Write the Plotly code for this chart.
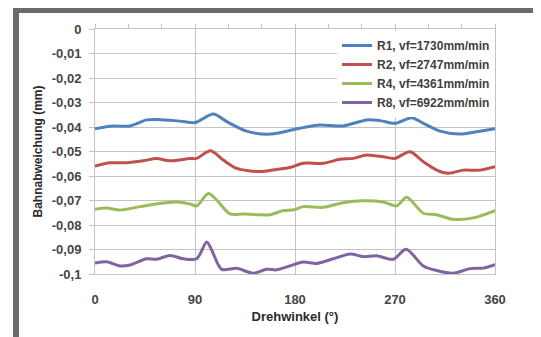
import plotly.graph_objects as go

# ---- data ----
r1_angle = [0, 16, 31.5, 46.5, 55.5, 76.5, 90, 106.5, 118.5, 136.5, 157.5, 172.5, 184.5,
            202.5, 223, 244.5, 256.5, 270, 285, 295.5, 310.5, 328.5, 343.5, 360]
r1_dev = [-0.0407, -0.0396, -0.0396, -0.0371, -0.0369, -0.0376, -0.0382, -0.0347, -0.0378,
          -0.0417, -0.0429, -0.0417, -0.0405, -0.0392, -0.0396, -0.0371, -0.0374, -0.0385,
          -0.0362, -0.0385, -0.0417, -0.0429, -0.0419, -0.0407]

r2_angle = [0, 13.5, 28.5, 43.5, 55.5, 67.5, 85.5, 91.5, 104, 115.5, 127.5, 148.5, 163.5,
            175.5, 187.5, 205.5, 220.5, 232.5, 244.5, 262.5, 270, 283.5, 295.5, 307.5,
            318, 331.5, 346.5, 360]
r2_dev = [-0.0559, -0.0546, -0.0546, -0.0538, -0.0529, -0.0538, -0.0529, -0.0528, -0.0497,
          -0.0535, -0.0569, -0.0582, -0.0573, -0.0565, -0.0548, -0.0548, -0.0532, -0.0528,
          -0.0514, -0.0524, -0.0528, -0.0501, -0.0542, -0.0576, -0.0589, -0.0576, -0.0576,
          -0.0562]

r4_angle = [0, 10.5, 22.5, 40.5, 58.5, 73.5, 85.5, 91.5, 102, 109.5, 121.5, 133.5, 145.5,
            157.5, 169.5, 179, 187.5, 205.5, 223.5, 241.5, 259.5, 271.5, 280.5, 295.5,
            307.5, 322.5, 340.5, 360]
r4_dev = [-0.0736, -0.0731, -0.0739, -0.0725, -0.0712, -0.0706, -0.0714, -0.0722, -0.0671,
          -0.0698, -0.0755, -0.0755, -0.0758, -0.0758, -0.0741, -0.0738, -0.0725, -0.0728,
          -0.0709, -0.0701, -0.0706, -0.0722, -0.0687, -0.0752, -0.0758, -0.0777, -0.0771,
          -0.0741]

r8_angle = [0, 10.5, 22.5, 31.5, 46.5, 55.5, 67.5, 79.5, 91.5, 100.5, 105, 114, 127.5,
            142.5, 154.5, 163.5, 175.5, 187.5, 199.5, 214.5, 229.5, 241.5, 253.5, 268.5,
            280, 295.5, 307.5, 322.5, 337.5, 349.5, 360]
r8_dev = [-0.0955, -0.0950, -0.0967, -0.0963, -0.0938, -0.0940, -0.0924, -0.0938, -0.0938,
          -0.0869, -0.0902, -0.0981, -0.0977, -0.0997, -0.0981, -0.0983, -0.0967, -0.0951,
          -0.0957, -0.0938, -0.0918, -0.0929, -0.0926, -0.0940, -0.0899, -0.0967, -0.0986,
          -0.0997, -0.0978, -0.0976, -0.0962]

series_names = ["R1, vf=1730mm/min", "R2, vf=2747mm/min", "R4, vf=4361mm/min", "R8, vf=6922mm/min"]
series_colors = ["#4f81bd", "#c0504d", "#9bbb59", "#8064a2"]

y_tick_vals = [0, -0.01, -0.02, -0.03, -0.04, -0.05, -0.06, -0.07, -0.08, -0.09, -0.1]
y_tick_text = ["0", "-0,01", "-0,02", "-0,03", "-0,04", "-0,05", "-0,06", "-0,07", "-0,08", "-0,09", "-0,1"]
x_tick_vals = [0, 90, 180, 270, 360]
x_minor_vals = [0, 30, 60, 90, 120, 150, 180, 210, 240, 270, 300, 330, 360]

# ---- figure ----
fig = go.Figure()
for ang, dev, name, col in zip([r1_angle, r2_angle, r4_angle, r8_angle],
                               [r1_dev, r2_dev, r4_dev, r8_dev],
                               series_names, series_colors):
    fig.add_trace(go.Scatter(x=ang, y=dev, name=name, mode="lines",
                             line=dict(color=col, width=3, shape="spline", smoothing=0.8)))

# invisible trace to anchor the top axis (minor tick marks)
fig.add_trace(go.Scatter(x=[0, 360], y=[0, 0], xaxis="x2", mode="lines",
                         line=dict(width=0), showlegend=False, hoverinfo="skip"))

# page has an 8px body margin, so the figure is drawn 8px smaller / offset
OFF = 8
W, H = 541 - OFF, 337 - OFF
L, T = 95 - OFF, 29 - OFF
R = W - (495 - OFF)
B = H - (274 - OFF)
pw, ph = W - L - R, H - T - B


def px_x(p):
    return (p - OFF - L) / pw


def px_y(p):
    return 1 + (T - (p - OFF)) / ph


frame_col = "#6b6b6b"
shapes = [
    dict(type="rect", xref="paper", yref="paper", x0=px_x(13), x1=px_x(560),
         y0=px_y(13), y1=px_y(7), fillcolor=frame_col, line=dict(width=0), layer="below"),
    dict(type="rect", xref="paper", yref="paper", x0=px_x(13), x1=px_x(19),
         y0=px_y(360), y1=px_y(7), fillcolor=frame_col, line=dict(width=0), layer="below"),
]

tick_font = dict(family="Arial", size=13, color="#454545", weight="bold")
grid_col = "#c3c3c3"

fig.update_layout(
    width=W, height=H,
    margin=dict(l=L, r=R, t=T, b=B, pad=0, autoexpand=False),
    paper_bgcolor="white", plot_bgcolor="white",
    shapes=shapes,
    showlegend=True,
    legend=dict(x=1, xanchor="right", y=px_y(31), yanchor="top",
                bgcolor="white", borderwidth=0,
                font=dict(family="Arial", size=12, color="#3f3f3f", weight="bold"),
                tracegroupgap=0, itemwidth=30),
    xaxis=dict(range=[0, 360], tickvals=x_tick_vals, showgrid=True, gridcolor=grid_col,
               gridwidth=1, showline=True, linecolor=grid_col, mirror=True, ticks="",
               tickfont=tick_font, ticklabelstandoff=13, zeroline=False,
               title=dict(text="Drehwinkel (°)",
                          font=dict(family="Arial", size=13, color="#2a2a2a", weight="bold"),
                          standoff=6)),
    xaxis2=dict(range=[0, 360], overlaying="x", side="top", anchor="y", tickvals=x_minor_vals,
                ticks="outside", ticklen=4, tickcolor=grid_col, showticklabels=False,
                showgrid=False, zeroline=False, showline=False),
    yaxis=dict(range=[-0.1, 0], tickvals=y_tick_vals, ticktext=y_tick_text, showgrid=True,
               gridcolor=grid_col, gridwidth=1, showline=True, linecolor=grid_col, mirror=True,
               ticks="outside", ticklen=5, tickcolor=grid_col, tickfont=tick_font,
               ticklabelstandoff=5, zeroline=False,
               title=dict(text="Bahnabweichung (mm)",
                          font=dict(family="Arial", size=12, color="#2a2a2a", weight="bold"),
                          standoff=6)),
)

fig.write_html("out.html")
